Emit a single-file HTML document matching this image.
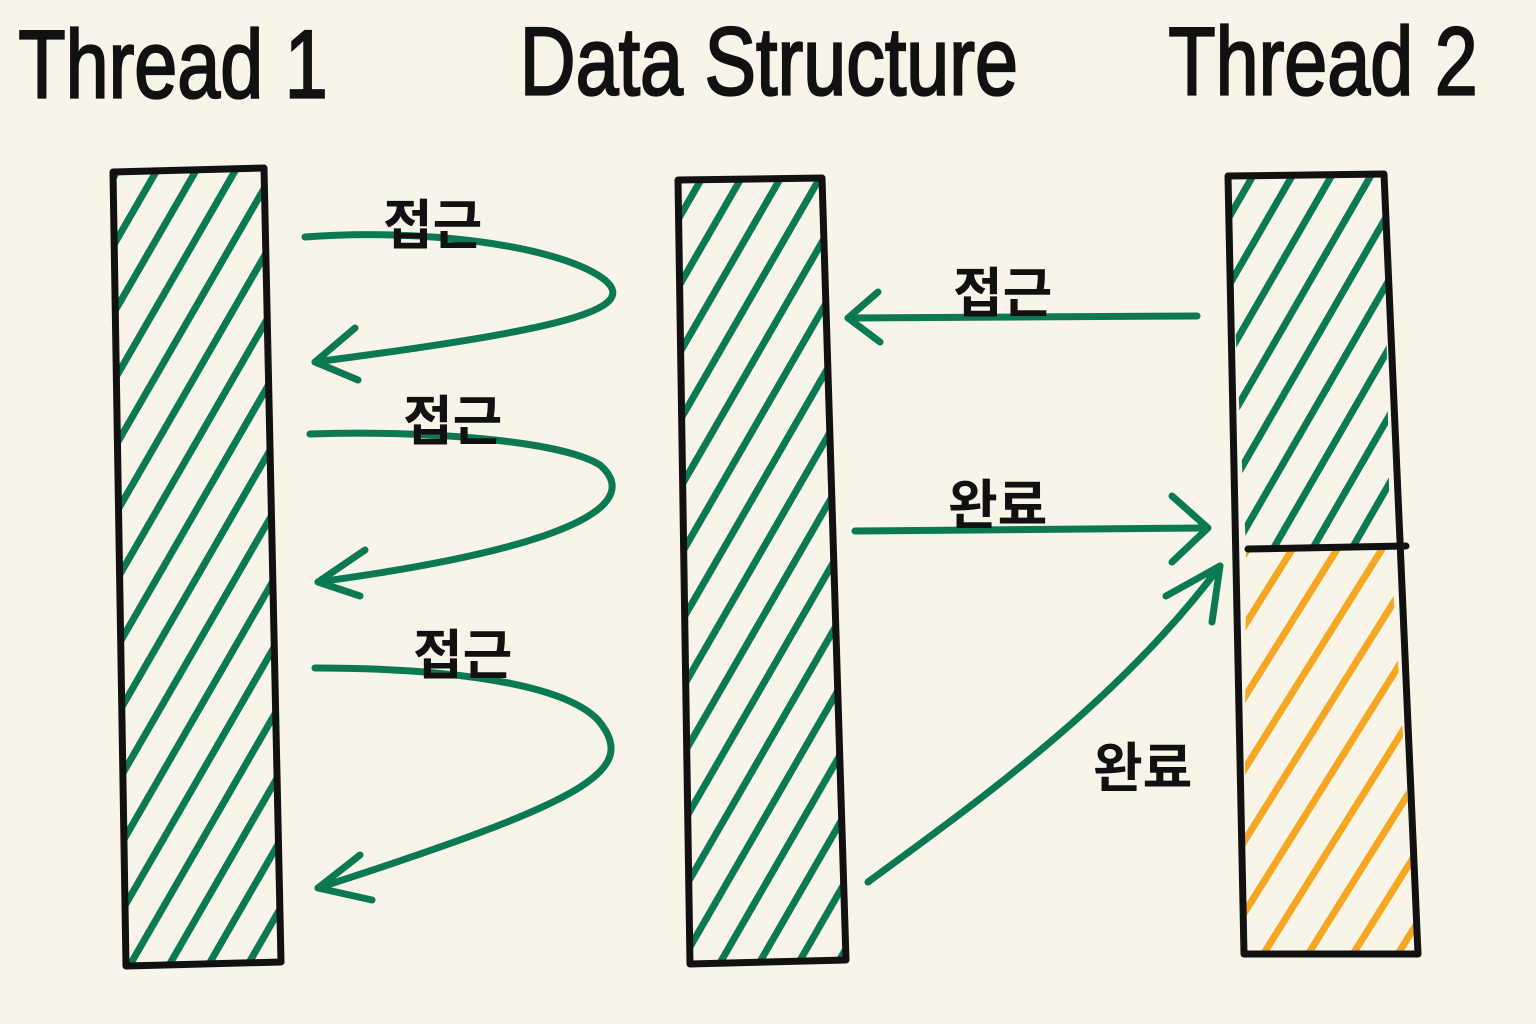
<!DOCTYPE html>
<html><head><meta charset="utf-8"><style>
html,body{margin:0;padding:0;background:#f8f5e8;}
svg{display:block}
text{font-family:"Liberation Sans","Noto Sans CJK KR",sans-serif;fill:#111;}
</style></head><body>
<svg width="1536" height="1024" viewBox="0 0 1536 1024" xmlns="http://www.w3.org/2000/svg">
<defs>
<pattern id="hg" width="34" height="34" patternUnits="userSpaceOnUse" patternTransform="rotate(30)">
<line x1="17" y1="-5" x2="17" y2="39" stroke="#0b7a52" stroke-width="7" stroke-linecap="round"/>
</pattern>
<pattern id="ho" width="38" height="38" patternUnits="userSpaceOnUse" patternTransform="rotate(32)">
<line x1="19" y1="-5" x2="19" y2="43" stroke="#f5a623" stroke-width="7" stroke-linecap="round"/>
</pattern>
</defs>
<rect width="1536" height="1024" fill="#f8f5e8"/>
<g font-size="84" transform="scale(0.92,1.15)" stroke="#111" stroke-width="2">
<text x="20" y="85">Thread 1</text>
<text x="565" y="82">Data Structure</text>
<text x="1270" y="82">Thread 2</text>
</g>
<polygon points="113,172 264,168 281,962 126,966" fill="url(#hg)"/>
<polygon points="113,172 264,168 281,962 126,966" fill="none" stroke="#111" stroke-width="7" stroke-linejoin="round"/>
<polygon points="678,180 822,178 846,960 690,964" fill="url(#hg)"/>
<polygon points="678,180 822,178 846,960 690,964" fill="none" stroke="#111" stroke-width="7" stroke-linejoin="round"/>
<polygon points="1228,176 1384,174 1390,546 1246,548" fill="url(#hg)"/>
<polygon points="1246,548 1390,546 1418,954 1244,954" fill="url(#ho)"/>
<polygon points="1228,176 1384,174 1418,954 1244,954" fill="none" stroke="#111" stroke-width="7" stroke-linejoin="round"/>
<line x1="1248" y1="549" x2="1406" y2="546" stroke="#111" stroke-width="7" stroke-linecap="round"/>
<g fill="none" stroke="#0b7a52" stroke-width="7" stroke-linecap="round" stroke-linejoin="round">
<path d="M305,237 C420,228 560,245 605,280 C640,310 560,330 315,362"/>
<path d="M355,328 L315,362 L358,380"/>
<path d="M310,434 C420,430 560,440 600,465 C640,500 590,545 318,582"/>
<path d="M365,550 L318,582 L360,596"/>
<path d="M315,668 C430,668 560,680 598,720 C640,770 590,800 318,888"/>
<path d="M360,855 L318,888 L372,900"/>
<path d="M1197,316 L848,318"/>
<path d="M878,292 L848,318 L880,342"/>
<path d="M855,531 L1205,528"/>
<path d="M1172,496 L1208,528 L1172,562"/>
<path d="M868,882 C980,800 1120,700 1220,566"/>
<path d="M1166,596 L1220,566 L1212,622"/>
</g>
<g font-size="54" font-weight="bold">
<text x="383" y="244">접근</text>
<text x="403" y="440">접근</text>
<text x="413" y="674">접근</text>
<text x="953" y="312">접근</text>
<text x="948" y="524">완료</text>
<text x="1093" y="787">완료</text>
</g>
</svg>
</body></html>
